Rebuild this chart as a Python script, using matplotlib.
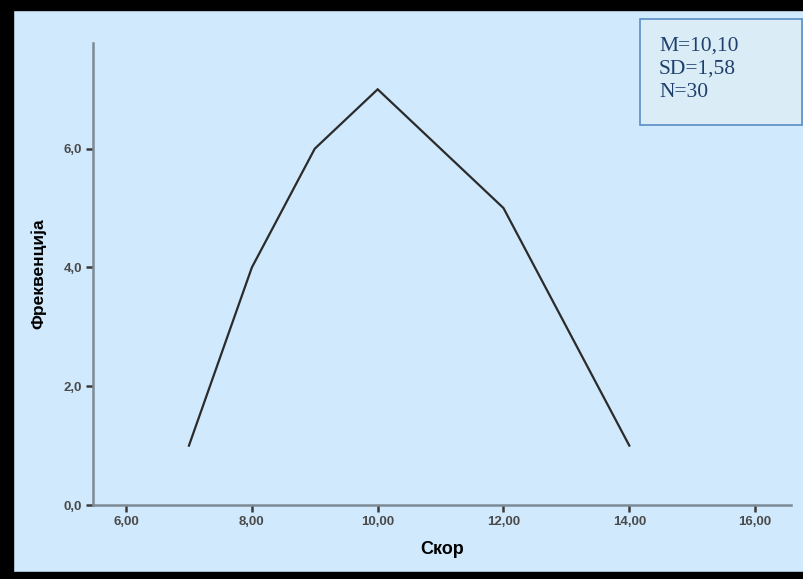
import matplotlib
matplotlib.use("Agg")
import matplotlib.pyplot as plt
from matplotlib.patches import Rectangle

scores = [7, 8, 9, 10, 12, 14]
freqs = [1, 4, 6, 7, 5, 1]
xticks = [6, 8, 10, 12, 14, 16]
xtick_labels = ["6,00", "8,00", "10,00", "12,00", "14,00", "16,00"]
yticks = [0, 2, 4, 6]
ytick_labels = ["0,0", "2,0", "4,0", "6,0"]
stats_lines = ["M=10,10", "SD=1,58", "N=30"]

W, H = 804, 579
bg = "#D0E9FC"
fig = plt.figure(figsize=(W / 100, H / 100), dpi=100)
fig.patch.set_facecolor(bg)

# black frame (top, left, bottom)
fig.patches.append(Rectangle((0, 1 - 10 / H), 1, 10 / H, transform=fig.transFigure,
                             color="black", zorder=0))
fig.patches.append(Rectangle((0, 0), 13 / W, 1, transform=fig.transFigure,
                             color="black", zorder=0))
fig.patches.append(Rectangle((0, 0), 1, 7 / H, transform=fig.transFigure,
                             color="black", zorder=0))

ax = fig.add_axes([93 / W, 1 - 505 / H, (791 - 93) / W, (505 - 43) / H])
ax.set_facecolor(bg)
ax.plot(scores, freqs, color="#2b2b2b", lw=1.6, solid_joinstyle="miter")
ax.set_xlim(5.475, 16.57)
ax.set_ylim(0, 7.78)
ax.set_xticks(xticks)
ax.set_xticklabels(xtick_labels)
ax.set_yticks(yticks)
ax.set_yticklabels(ytick_labels)
spine_c = "#7D8A93"
for s in ["top", "right"]:
    ax.spines[s].set_visible(False)
for s in ["left", "bottom"]:
    ax.spines[s].set_color(spine_c)
    ax.spines[s].set_linewidth(1.8)
ax.tick_params(axis="both", direction="out", length=5, width=1.8, color="#3a3a3a",
               labelsize=9.5, labelcolor="#4a4a4a", pad=3)
for lab in ax.get_xticklabels() + ax.get_yticklabels():
    lab.set_fontfamily("Liberation Sans")
    lab.set_fontweight("bold")
ax.set_xlabel("Скор", fontsize=13, fontweight="bold", labelpad=9, color="black",
              family="Liberation Sans")
ax.set_ylabel("Фреквенција", fontsize=12.5, fontweight="bold", labelpad=12, color="black",
              family="Liberation Sans")

# stats box
box = Rectangle((640 / W, 1 - 125 / H), (802 - 640) / W, (125 - 19) / H,
                transform=fig.transFigure, facecolor="#DAEDF6", edgecolor="#5A8CC8",
                lw=1.2, zorder=5)
fig.patches.append(box)
for i, line in enumerate(stats_lines):
    fig.text(659 / W, 1 - (51 + 23 * i) / H, line, fontsize=15.5,
             family="Liberation Serif", color="#1F3F6E", va="baseline", ha="left",
             zorder=6)

fig.savefig("out.png", dpi=100, facecolor=fig.get_facecolor())
